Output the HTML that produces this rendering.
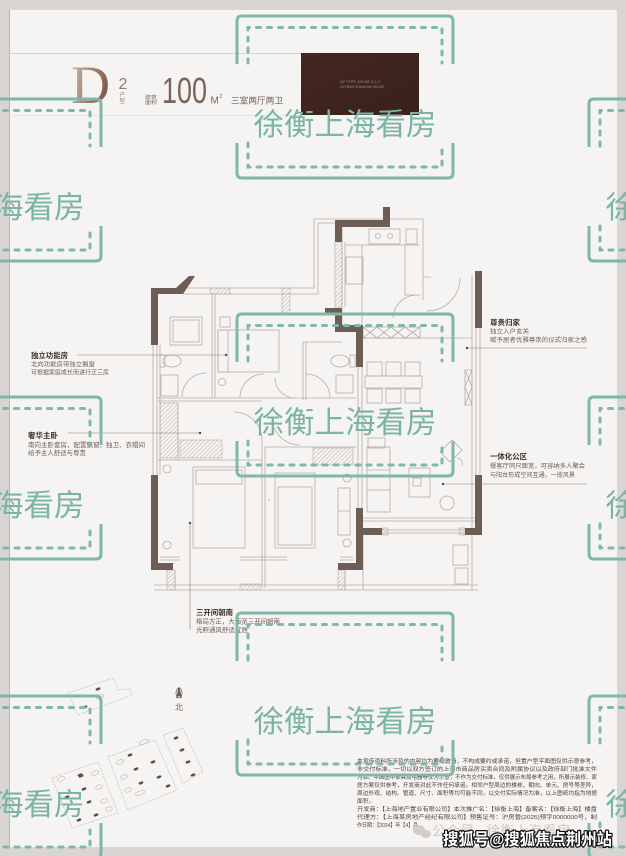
<!DOCTYPE html>
<html><head><meta charset="utf-8">
<style>
html,body{margin:0;padding:0;background:#d9d5d2;}
svg{display:block;}
.cj{font-family:"Liberation Sans","Noto Sans CJK SC",sans-serif;}
</style></head>
<body>
<svg width="626" height="856" viewBox="0 0 626 856" xmlns="http://www.w3.org/2000/svg">
<defs>
 <linearGradient id="dg" x1="0" y1="0" x2="1" y2="0.4">
  <stop offset="0" stop-color="#cdbfb2"/><stop offset="0.5" stop-color="#a68c7a"/><stop offset="1" stop-color="#7a5c4c"/>
 </linearGradient>
 <linearGradient id="bx" x1="0" y1="0" x2="1" y2="1">
  <stop offset="0" stop-color="#43271f"/><stop offset="1" stop-color="#38211b"/>
 </linearGradient>
 <pattern id="h" width="3" height="3" patternUnits="userSpaceOnUse" patternTransform="rotate(45)">
  <line x1="0" y1="0" x2="0" y2="3" stroke="#a99d95" stroke-width="0.8"/>
 </pattern>
</defs>

<!-- page -->
<rect x="0" y="0" width="626" height="856" fill="#d9d5d2"/>
<rect x="9" y="10" width="608" height="837" fill="#f6f4f2"/>
<line x1="9.5" y1="10" x2="9.5" y2="847" stroke="#bcb6b2" stroke-width="1"/>

<!-- header -->
<line x1="9" y1="53.5" x2="301" y2="53.5" stroke="#cfc6c0" stroke-width="0.8"/>
<line x1="9" y1="115.5" x2="301" y2="115.5" stroke="#e6dfda" stroke-width="0.8"/>
<text x="71" y="103" font-family="Liberation Serif, serif" font-size="54" fill="url(#dg)">D</text>
<text x="118.5" y="89" font-family="Liberation Sans, sans-serif" font-size="16" fill="#8c7b70">2</text>
<text x="119.5" y="96.5" class="cj" font-size="5.5" fill="#8c7b70">户</text>
<text x="119.5" y="103" class="cj" font-size="5.5" fill="#8c7b70">型</text>
<text x="145" y="99" class="cj" font-size="5" fill="#7a6a60" textLength="12" lengthAdjust="spacingAndGlyphs">建筑</text>
<text x="145" y="104" class="cj" font-size="5" fill="#7a6a60" textLength="12" lengthAdjust="spacingAndGlyphs">面积</text>
<text x="162" y="103" font-family="Liberation Sans, sans-serif" font-size="36" fill="#7a6558" textLength="45" lengthAdjust="spacingAndGlyphs">100</text>
<text x="210.5" y="103.5" font-family="Liberation Sans, sans-serif" font-size="10" fill="#7a6558">M</text>
<text x="219.5" y="98" font-family="Liberation Sans, sans-serif" font-size="5" fill="#7a6558">2</text>
<text x="231" y="103.5" class="cj" font-size="8.7" fill="#6e5e55" textLength="52" lengthAdjust="spacingAndGlyphs">三室两厅两卫</text>
<rect x="301" y="53" width="118" height="62" fill="url(#bx)"/>
<text x="340" y="83" font-family="Liberation Sans, sans-serif" font-size="3.5" fill="#a8948a" textLength="40" lengthAdjust="spacingAndGlyphs">D2 TYPE  100 M2  3-2-2</text>
<text x="340" y="88" font-family="Liberation Sans, sans-serif" font-size="3.5" fill="#a8948a" textLength="44" lengthAdjust="spacingAndGlyphs">XU HENG SHANGHAI HOUSE</text>

<!-- floor plan thin lines -->
<g fill="none" stroke="#b7aca4" stroke-width="0.8">
 <path d="M183,288 H314 V219 H423 V277 H431"/>
 <path d="M183,294 H318 V223 H335"/>
 <path d="M153,345 V475 M157,345 V475 M160,345 V475"/>
 <path d="M476,328 V475 M480,328 V475 M472,275 V590"/>
 <path d="M342,227 V325 M345,242 V307"/>
 <path d="M345,245 H420 M362,245 V325 M405,245 V295 H420"/>
 <rect x="369" y="229" width="31" height="15"/>
 <circle cx="378" cy="236" r="2.5"/><circle cx="390" cy="236" r="2.5"/>
 <rect x="406" y="229" width="11" height="15"/>
 <rect x="346" y="257" width="17" height="27"/>
 <path d="M423,277 V300 M460,278 A33,33 0 0 1 427,311"/>
 <path d="M393,318 A24,24 0 0 1 417,295"/>
 <rect x="363" y="327" width="57" height="11"/>
 <path d="M363,327 L377,338 M377,327 L363,338 M377,327 L391,338 M391,327 L377,338 M391,327 L405,338 M405,327 L391,338 M405,327 L420,338 M420,327 L405,338"/>
 <path d="M465,370 H472 V405 H465 Z M465,370 L472,387 L465,405 M472,370 L465,387 L472,405"/>
 <!-- left rooms -->
 <path d="M212,294 V398 M215,294 V398"/>
 <path d="M158,398 H356 M158,401 H262"/>
 <rect x="170" y="317" width="32" height="28"/><rect x="173" y="320" width="26" height="22"/>
 <ellipse cx="172" cy="361" rx="9" ry="6"/><rect x="160" y="355" width="5" height="12"/>
 <rect x="161" y="375" width="17" height="21"/>
 <path d="M182,397 A24,24 0 0 1 206,373"/>
 <rect x="218" y="330" width="61" height="42"/><rect x="218" y="330" width="10" height="42"/>
 <rect x="220" y="317" width="10" height="10"/>
 <circle cx="222" cy="382" r="3.5"/>
 <path d="M303,342 V400 M306,342 V400 M303,342 H342"/>
 <ellipse cx="340" cy="361" rx="9" ry="6"/><rect x="350" y="355" width="5" height="12"/>
 <rect x="336" y="375" width="17" height="18"/>
 <path d="M240,398 A24,24 0 0 1 264,374 M330,398 A24,24 0 0 0 306,374"/>
 <path d="M262,440 A28,28 0 0 0 234,412 M300,445 A28,28 0 0 1 272,417 M295,398 A20,20 0 0 1 275,378"/>
 <path d="M158,460 H262 M178,403 V460 M262,440 V588 M265,447 V588 M265,447 H356"/>
 <path d="M358,367 V508 M362,367 V508"/>
 <rect x="193" y="467" width="52" height="81"/><rect x="196" y="470" width="46" height="14"/>
 <circle cx="167" cy="469" r="4"/><circle cx="167" cy="545" r="4"/>
 <rect x="275" y="473" width="40" height="75"/><rect x="278" y="487" width="34" height="58"/>
 <rect x="338" y="488" width="12" height="47"/><path d="M338,511 H350"/>
 <circle cx="347" cy="478" r="4"/><circle cx="347" cy="543" r="4"/>
 <path d="M160,557 H180 M160,560 H180 M240,557 H287 M240,560 H287 M340,557 H353 M340,560 H353"/>
 <path d="M154,585 H478 M154,590 H478 M175,570 V590 M345,570 V590"/>
 <!-- living -->
 <path d="M363,338 H472"/>
 <rect x="367" y="362" width="15" height="14"/><rect x="386" y="362" width="15" height="14"/><rect x="405" y="362" width="15" height="14"/>
 <rect x="365" y="376" width="57" height="12"/>
 <rect x="367" y="389" width="15" height="14"/><rect x="386" y="389" width="15" height="14"/><rect x="405" y="389" width="15" height="14"/>
 <rect x="367" y="447" width="23" height="65"/><path d="M367,470 H390 M367,490 H390"/>
 <rect x="368" y="438" width="17" height="10"/>
 <rect x="409" y="468" width="21" height="29"/><rect x="413" y="478" width="8" height="8"/>
 <circle cx="447" cy="503" r="7"/>
 <path d="M440,452 L452,440 L462,450 L450,462 Z"/>
 <path d="M457,458 A6,6 0 0 1 462,466"/>
 <path d="M363,518 H475 M363,521 H475 M382,530 H465 M382,533 H465"/>
 <path d="M363,535 V590"/>
 <rect x="453" y="545" width="15" height="20"/><rect x="455" y="568" width="13" height="16"/>
 <path d="M268,500 H270 M305,600"/>
</g>
<!-- hatched -->
<g fill="url(#h)" stroke="#b7aca4" stroke-width="0.6">
 <rect x="335" y="242" width="7" height="65"/>
 <rect x="210" y="288" width="20" height="6"/>
 <rect x="282" y="288" width="8" height="25"/>
 <rect x="160" y="403" width="18" height="55"/>
 <rect x="180" y="440" width="42" height="18"/>
 <rect x="313" y="448" width="40" height="17"/>
 <rect x="167" y="570" width="8" height="20"/>
 <rect x="240" y="584" width="20" height="6"/>
 <rect x="338" y="570" width="7" height="20"/>
 <rect x="382" y="528" width="6" height="7"/>
 <rect x="459" y="528" width="6" height="7"/>
</g>
<!-- walls -->
<g fill="#6d5d54">
 <rect x="335" y="220" width="55" height="7"/>
 <rect x="383" y="207" width="7" height="20"/>
 <rect x="335" y="220" width="7" height="22"/>
 <rect x="325" y="308" width="17" height="7"/>
 <rect x="335" y="315" width="7" height="17"/>
 <rect x="335" y="325" width="28" height="7"/>
 <rect x="356" y="325" width="7" height="42"/>
 <rect x="475" y="271" width="7" height="57"/>
 <rect x="151" y="288" width="32" height="6"/>
 <polygon points="176,288 189,276 195,276 183,294 176,294"/>
 <rect x="151" y="288" width="7" height="57"/>
 <rect x="151" y="475" width="7" height="95"/>
 <rect x="151" y="563" width="22" height="7"/>
 <rect x="338" y="563" width="25" height="7"/>
 <rect x="356" y="508" width="7" height="62"/>
 <rect x="363" y="528" width="19" height="7"/>
 <rect x="475" y="475" width="7" height="60"/>
 <rect x="465" y="528" width="17" height="7"/>
</g>

<!-- leader lines -->
<g stroke="#8a7d75" stroke-width="0.6" fill="#5a4a42">
 <line x1="77" y1="355" x2="226" y2="355"/><circle cx="226" cy="355" r="1.2" stroke="none"/>
 <line x1="68" y1="433" x2="200" y2="433"/><circle cx="200" cy="433" r="1.2" stroke="none"/>
 <line x1="467" y1="348" x2="587" y2="348"/><circle cx="467" cy="348" r="1.2" stroke="none"/>
 <line x1="443" y1="484" x2="587" y2="484"/><circle cx="443" cy="484" r="1.2" stroke="none"/>
 <line x1="190" y1="523" x2="190" y2="630"/><circle cx="190" cy="523" r="1.2" stroke="none"/>
</g>

<!-- labels -->
<g class="cj">
 <text x="31" y="358" font-size="7.5" font-weight="bold" fill="#3f322c" textLength="37" lengthAdjust="spacingAndGlyphs">独立功能房</text>
 <text x="31" y="366.5" font-size="6.2" fill="#6b5d55" textLength="64" lengthAdjust="spacingAndGlyphs">北向功能房带独立飘窗</text>
 <text x="31" y="374.5" font-size="6.2" fill="#6b5d55" textLength="78" lengthAdjust="spacingAndGlyphs">可根据家庭成长而进行正三房</text>

 <text x="28" y="438" font-size="7.5" font-weight="bold" fill="#3f322c" textLength="30" lengthAdjust="spacingAndGlyphs">奢华主卧</text>
 <text x="28" y="447" font-size="6.4" fill="#6b5d55" textLength="117" lengthAdjust="spacingAndGlyphs">南向主卧套房，配置飘窗、独卫、衣帽间</text>
 <text x="28" y="455" font-size="6.4" fill="#6b5d55" textLength="58" lengthAdjust="spacingAndGlyphs">给予主人舒适与尊贵</text>

 <text x="490" y="325" font-size="7.5" font-weight="bold" fill="#3f322c" textLength="30" lengthAdjust="spacingAndGlyphs">尊贵归家</text>
 <text x="490" y="333.5" font-size="6.2" fill="#6b5d55" textLength="39" lengthAdjust="spacingAndGlyphs">独立入户玄关</text>
 <text x="490" y="342" font-size="6.2" fill="#6b5d55" textLength="97" lengthAdjust="spacingAndGlyphs">赋予居者优雅尊崇的仪式归家之感</text>

 <text x="490" y="459" font-size="7.5" font-weight="bold" fill="#3f322c" textLength="37" lengthAdjust="spacingAndGlyphs">一体化公区</text>
 <text x="490" y="468" font-size="6.2" fill="#6b5d55" textLength="95" lengthAdjust="spacingAndGlyphs">餐客厅同尺面宽，可容纳多人聚会</text>
 <text x="490" y="477" font-size="6.2" fill="#6b5d55" textLength="85" lengthAdjust="spacingAndGlyphs">与阳台形成空间互通，一揽风景</text>

 <text x="196" y="615" font-size="7.5" font-weight="bold" fill="#3f322c" textLength="37" lengthAdjust="spacingAndGlyphs">三开间朝南</text>
 <text x="196" y="623.5" font-size="6.4" fill="#6b5d55" textLength="84" lengthAdjust="spacingAndGlyphs">格局方正，大面宽三开间朝南</text>
 <text x="196" y="632" font-size="6.4" fill="#6b5d55" textLength="52" lengthAdjust="spacingAndGlyphs">光照通风舒适宜居</text>
</g>

<!-- north arrow -->
<g fill="none" stroke="#6b5d55" stroke-width="0.7">
 <ellipse cx="179" cy="693" rx="3" ry="5"/>
 <path d="M179,687 L176.5,698 L179,695 L181.5,698 Z" fill="#6b5d55"/>
</g>
<text x="179" y="710" text-anchor="middle" class="cj" font-size="8" fill="#6b5d55">北</text>

<!-- site plan -->
<g fill="none" stroke="#a39a93" stroke-width="0.6" stroke-dasharray="1 1.2">
 <polygon points="68,693 113,678 118,690 130,689 132,695 78,715"/>
 <polygon points="52,778 98,762 118,813 72,828"/>
 <polygon points="108,757 155,740 177,790 128,810"/>
 <polygon points="163,735 183,728 203,772 183,783"/>
</g>
<g stroke="#b3aaa3" stroke-width="0.5" fill="none">
 <ellipse cx="61" cy="779" rx="4" ry="2" transform="rotate(-20 61 779)"/>
 <ellipse cx="95" cy="773" rx="4" ry="2" transform="rotate(-20 95 773)"/>
 <ellipse cx="99" cy="787" rx="3.5" ry="2" transform="rotate(-20 99 787)"/>
 <ellipse cx="104" cy="801" rx="3.5" ry="2" transform="rotate(-20 104 801)"/>
 <ellipse cx="109" cy="809" rx="3.5" ry="2" transform="rotate(-20 109 809)"/>
 <ellipse cx="120" cy="762" rx="4" ry="2" transform="rotate(-20 120 762)"/>
 <ellipse cx="124" cy="777" rx="3.5" ry="2" transform="rotate(-20 124 777)"/>
 <ellipse cx="128" cy="790" rx="3.5" ry="2" transform="rotate(-20 128 790)"/>
 <ellipse cx="144" cy="742" rx="5" ry="2" transform="rotate(-20 144 742)"/>
 <ellipse cx="140" cy="793" rx="5" ry="2" transform="rotate(-20 140 793)"/>
 <ellipse cx="100" cy="697" rx="4" ry="2" transform="rotate(-20 100 697)"/>
</g>
<g fill="#5e4c43">
 <ellipse cx="98" cy="689" rx="2.5" ry="1.3" transform="rotate(-20 98 689)"/>
 <ellipse cx="85" cy="707" rx="2.5" ry="1.3" transform="rotate(-20 85 707)"/>
 <ellipse cx="81" cy="776" rx="2.5" ry="1.3" transform="rotate(-20 81 776)"/>
 <ellipse cx="84" cy="789" rx="2.5" ry="1.3" transform="rotate(-20 84 789)"/>
 <ellipse cx="89" cy="802" rx="2.5" ry="1.3" transform="rotate(-20 89 802)"/>
 <ellipse cx="96" cy="815" rx="2.5" ry="1.3" transform="rotate(-20 96 815)"/>
 <ellipse cx="79" cy="820" rx="2.5" ry="1.3" transform="rotate(-20 79 820)"/>
 <ellipse cx="67" cy="797" rx="2.5" ry="1.3" transform="rotate(-20 67 797)"/>
 <ellipse cx="80" cy="775" rx="2.5" ry="1.3" transform="rotate(-20 80 775)"/>
 <ellipse cx="130" cy="755" rx="2.5" ry="1.3" transform="rotate(-20 130 755)"/>
 <ellipse cx="136" cy="769" rx="2.5" ry="1.3" transform="rotate(-20 136 769)"/>
 <ellipse cx="141" cy="783" rx="2.5" ry="1.3" transform="rotate(-20 141 783)"/>
 <ellipse cx="153" cy="762" rx="2.5" ry="1.3" transform="rotate(-20 153 762)"/>
 <ellipse cx="159" cy="777" rx="2.5" ry="1.3" transform="rotate(-20 159 777)"/>
 <ellipse cx="168" cy="786" rx="2.5" ry="1.3" transform="rotate(-20 168 786)"/>
 <ellipse cx="176" cy="738" rx="2.5" ry="1.3" transform="rotate(-20 176 738)"/>
 <ellipse cx="182" cy="750" rx="2.5" ry="1.3" transform="rotate(-20 182 750)"/>
 <ellipse cx="188" cy="762" rx="2.5" ry="1.3" transform="rotate(-20 188 762)"/>
 <ellipse cx="193" cy="775" rx="2.5" ry="1.3" transform="rotate(-20 193 775)"/>
</g>

<!-- disclaimer -->
<g class="cj" font-size="5.8" fill="#4e423c">
 <text x="357" y="763" textLength="240" lengthAdjust="spacingAndGlyphs">本宣传资料所涉及的内容均为要约邀请，不构成要约或承诺，但置户型平面图仅供示意参考，</text>
 <text x="357" y="771" textLength="240" lengthAdjust="spacingAndGlyphs">非交付标准，一切以双方签订的上海市商品房买卖合同及附属协议以及政府部门批准文件</text>
 <text x="357" y="779" textLength="240" lengthAdjust="spacingAndGlyphs">为准。平面图中家具及电器等仅为示意，不作为交付标准，仅供展示布局参考之用，所展示装修、家</text>
 <text x="357" y="787" textLength="240" lengthAdjust="spacingAndGlyphs">居方案仅供参考，开发商对此不作任何承诺。相邻户型周边的楼栋、朝向、单元、房号等差异，</text>
 <text x="357" y="795" textLength="240" lengthAdjust="spacingAndGlyphs">周边外观、结构、管道、尺寸、面积等均可能不同，以交付实际情况为准，以上图纸均指为地貌</text>
 <text x="357" y="803">面积。</text>
 <text x="357" y="811" textLength="240" lengthAdjust="spacingAndGlyphs">开发商：【上海地产置业有限公司】本次推广名：【徐衡上海】备案名：【徐衡上海】楼盘</text>
 <text x="357" y="819" textLength="240" lengthAdjust="spacingAndGlyphs">代理方：【上海某房地产经纪有限公司】预售证号：沪房管(2025)预字0000000号，制</text>
 <text x="357" y="827" textLength="66" lengthAdjust="spacingAndGlyphs">作日期：【2024】年【4】月。</text>
</g>

<!-- watermarks -->
<g fill="none" stroke="#7fb8aa" stroke-width="3">
 <g transform="translate(237,16)">
  <path d="M0,48 V5 Q0,0 5,0 H211 Q216,0 216,5 V48 M0,127 V157 Q0,162 5,162 H211 Q216,162 216,157 V127"/>
  <path d="M11,47 V11.5 H205 V47 M11,127 V151 H205 V127" stroke-dasharray="4 7" stroke-linecap="round"/>
 </g>
 <g transform="translate(237,314)">
  <path d="M0,48 V5 Q0,0 5,0 H211 Q216,0 216,5 V48 M0,127 V157 Q0,162 5,162 H211 Q216,162 216,157 V127"/>
  <path d="M11,47 V11.5 H205 V47 M11,127 V151 H205 V127" stroke-dasharray="4 7" stroke-linecap="round"/>
 </g>
 <g transform="translate(237,613)">
  <path d="M0,48 V5 Q0,0 5,0 H211 Q216,0 216,5 V48 M0,127 V157 Q0,162 5,162 H211 Q216,162 216,157 V127"/>
  <path d="M11,47 V11.5 H205 V47 M11,127 V151 H205 V127" stroke-dasharray="4 7" stroke-linecap="round"/>
 </g>
 <g transform="translate(-115,99)">
  <path d="M0,48 V5 Q0,0 5,0 H211 Q216,0 216,5 V48 M0,127 V157 Q0,162 5,162 H211 Q216,162 216,157 V127"/>
  <path d="M11,47 V11.5 H205 V47 M11,127 V151 H205 V127" stroke-dasharray="4 7" stroke-linecap="round"/>
 </g>
 <g transform="translate(-115,397)">
  <path d="M0,48 V5 Q0,0 5,0 H211 Q216,0 216,5 V48 M0,127 V157 Q0,162 5,162 H211 Q216,162 216,157 V127"/>
  <path d="M11,47 V11.5 H205 V47 M11,127 V151 H205 V127" stroke-dasharray="4 7" stroke-linecap="round"/>
 </g>
 <g transform="translate(-115,696)">
  <path d="M0,48 V5 Q0,0 5,0 H211 Q216,0 216,5 V48 M0,127 V157 Q0,162 5,162 H211 Q216,162 216,157 V127"/>
  <path d="M11,47 V11.5 H205 V47 M11,127 V151 H205 V127" stroke-dasharray="4 7" stroke-linecap="round"/>
 </g>
 <g transform="translate(589,99)">
  <path d="M0,48 V5 Q0,0 5,0 H211 Q216,0 216,5 V48 M0,127 V157 Q0,162 5,162 H211 Q216,162 216,157 V127"/>
  <path d="M11,47 V11.5 H205 V47 M11,127 V151 H205 V127" stroke-dasharray="4 7" stroke-linecap="round"/>
 </g>
 <g transform="translate(589,397)">
  <path d="M0,48 V5 Q0,0 5,0 H211 Q216,0 216,5 V48 M0,127 V157 Q0,162 5,162 H211 Q216,162 216,157 V127"/>
  <path d="M11,47 V11.5 H205 V47 M11,127 V151 H205 V127" stroke-dasharray="4 7" stroke-linecap="round"/>
 </g>
 <g transform="translate(589,696)">
  <path d="M0,48 V5 Q0,0 5,0 H211 Q216,0 216,5 V48 M0,127 V157 Q0,162 5,162 H211 Q216,162 216,157 V127"/>
  <path d="M11,47 V11.5 H205 V47 M11,127 V151 H205 V127" stroke-dasharray="4 7" stroke-linecap="round"/>
 </g>
</g>
<g class="cj" font-size="30.5" fill="#7ab4a5" text-anchor="middle">
 <text x="345" y="135">徐衡上海看房</text>
 <text x="345" y="433">徐衡上海看房</text>
 <text x="345" y="732">徐衡上海看房</text>
 <text x="-7" y="218">徐衡上海看房</text>
 <text x="-7" y="516">徐衡上海看房</text>
 <text x="-7" y="815">徐衡上海看房</text>
 <text x="697" y="218">徐衡上海看房</text>
 <text x="697" y="516">徐衡上海看房</text>
 <text x="697" y="815">徐衡上海看房</text>
</g>

<!-- bottom credits -->
<g fill="#d2cdc9">
 <ellipse cx="419" cy="830" rx="6" ry="5"/>
 <ellipse cx="426" cy="834" rx="5" ry="4"/>
</g>
<text x="432" y="836" class="cj" font-size="14" fill="#cdc8c4">公众号 · 徐衡上海看房</text>
<text x="443" y="845" class="cj" font-size="16.5" font-weight="bold" fill="#ffffff" stroke="#111111" stroke-width="2.6" stroke-linejoin="round" paint-order="stroke" textLength="169" lengthAdjust="spacingAndGlyphs">搜狐号@搜狐焦点荆州站</text>
</svg>
</body></html>
